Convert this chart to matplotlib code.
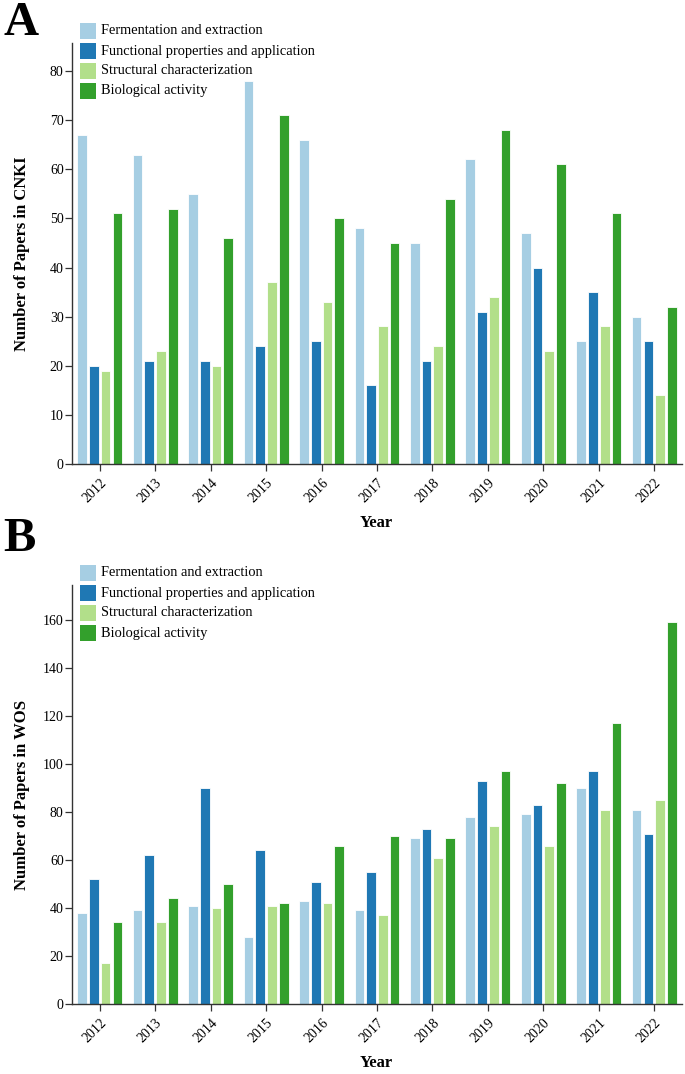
import numpy as np
import matplotlib
matplotlib.use("Agg")
import matplotlib.pyplot as plt
from matplotlib.patches import Rectangle

plt.rcParams['font.family'] = ['Liberation Serif', 'DejaVu Serif']

years = ['2012', '2013', '2014', '2015', '2016', '2017', '2018', '2019', '2020', '2021', '2022']
categories = ['Fermentation and extraction', 'Functional properties and application',
              'Structural characterization', 'Biological activity']
colors = ['#a6cee3', '#1f78b4', '#b2df8a', '#33a02c']

# panel A: CNKI
cnkiFerment = [67, 63, 55, 78, 66, 48, 45, 62, 47, 25, 30]
cnkiFunction = [20, 21, 21, 24, 25, 16, 21, 31, 40, 35, 25]
cnkiStruct = [19, 23, 20, 37, 33, 28, 24, 34, 23, 28, 14]
cnkiBio = [51, 52, 46, 71, 50, 45, 54, 68, 61, 51, 32]

# panel B: WOS
wosFerment = [38, 39, 41, 28, 43, 39, 69, 78, 79, 90, 81]
wosFunction = [52, 62, 90, 64, 51, 55, 73, 93, 83, 97, 71]
wosStruct = [17, 34, 40, 41, 42, 37, 61, 74, 66, 81, 85]
wosBio = [34, 44, 50, 42, 66, 70, 69, 97, 92, 117, 159]

W, H = 685, 1074
fig = plt.figure(figsize=(W / 100, H / 100), dpi=100)


def px(x, y):
    return x / W, 1 - y / H


def drawPanel(top, bottom, series, ymax, yticks, ylabel, letter, letterY, legendY, yearY):
    left, right = 72, 682
    ax = fig.add_axes([left / W, 1 - bottom / H, (right - left) / W, (bottom - top) / H])
    x = np.arange(len(years))
    step = 0.212
    for i, (vals, c) in enumerate(zip(series, colors)):
        ax.bar(x + (i - 1.5) * step, vals, width=0.175, color=c, edgecolor='white',
               linewidth=0.6, zorder=2)
    ax.set_xlim(-0.5, len(years) - 0.5)
    ax.set_ylim(0, ymax)
    ax.set_yticks(yticks)
    ax.set_xticks(x)
    ax.set_xticklabels(years, rotation=45, ha='right', rotation_mode='anchor')
    ax.tick_params(axis='both', labelsize=10, length=5, width=0.9, color='#333333')
    ax.tick_params(axis='y', pad=1)
    ax.tick_params(axis='x', pad=4)
    for s in ['top', 'right']:
        ax.spines[s].set_visible(False)
    for s in ['left', 'bottom']:
        ax.spines[s].set_color('#333333')
        ax.spines[s].set_linewidth(1.0)
    ax.set_ylabel(ylabel, fontsize=12, fontweight='bold')
    ax.yaxis.set_label_coords((30 - left) / (right - left), 0.5)
    fig.text(*px(376, yearY), 'Year', fontsize=12, fontweight='bold', ha='center', va='center')
    fig.text(*px(3, letterY), letter, fontsize=35, fontweight='bold', ha='left', va='center')
    for i, (name, c) in enumerate(zip(categories, colors)):
        cy = legendY + i * 20
        fx, fy = px(80, cy + 8)
        fig.add_artist(Rectangle((fx, fy), 16 / W, 16 / H, transform=fig.transFigure,
                                 facecolor=c, edgecolor='none'))
        fig.text(*px(101, cy), name, fontsize=10.4, ha='left', va='center')
    return ax


drawPanel(43, 464, [cnkiFerment, cnkiFunction, cnkiStruct, cnkiBio], 85.7,
          np.arange(0, 81, 10), 'Number of Papers in CNKI', 'A', 23, 31, 523)
drawPanel(585, 1004, [wosFerment, wosFunction, wosStruct, wosBio], 174.6,
          np.arange(0, 161, 20), 'Number of Papers in WOS', 'B', 539, 573, 1063)

fig.savefig('out.png', dpi=100)
